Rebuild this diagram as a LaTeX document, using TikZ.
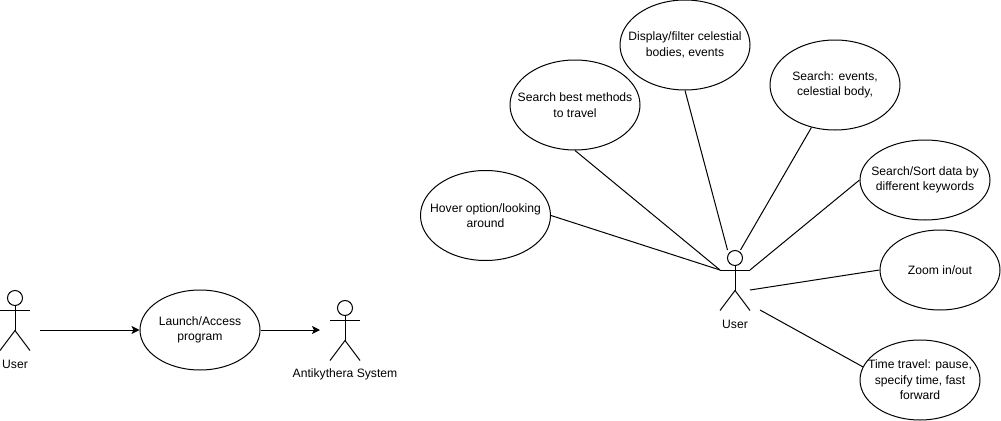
\documentclass[tikz,border=0pt]{standalone}
\usepackage{fontspec}
\setmainfont{Liberation Sans}
\usetikzlibrary{shapes.geometric,arrows.meta}
\tikzset{
    usecase/.style={draw, ellipse, line width=0.75pt, inner xsep=-30pt, inner ysep=-15pt, align=center, font=\fontsize{9.1}{11.6}\selectfont},
    smallcase/.style={usecase, minimum width=90pt, minimum height=60pt},
    widecase/.style={usecase, minimum width=97.5pt, minimum height=60pt},
    bigcase/.style={usecase, minimum width=97.5pt, minimum height=67.5pt},
    actorlabel/.style={font=\fontsize{9.1}{11.6}\selectfont},
    link/.style={line width=0.75pt},
    flow/.style={line width=0.75pt, -{Stealth[length=6pt,width=6pt,inset=1.5pt]}},
    pics/actor/.style={code={
        \draw[line width=0.75pt] (0,0) circle (7.5);
        \draw[line width=0.75pt] (0,7.5) -- (0,32.5);
        \draw[line width=0.75pt] (-15,12) -- (15,12);
        \draw[line width=0.75pt] (-15,52.5) -- (0,32.5) -- (15,52.5);
        \coordinate (-larm) at (-15,12);
        \coordinate (-rarm) at (15,12);
    }}
}
\begin{document}
\begin{tikzpicture}[x=0.75pt,y=-0.75pt]
    \useasboundingbox (0,0) rectangle (1001,421);
    % Left part
    \pic (userleft) at (15,298) {actor};
    \node[actorlabel] (userlefttext) at (15,364) {User};
    \node[smallcase] (launch) at (200,330) {Launch/Access\\program};
    \pic (system) at (345,308) {actor};
    \node[actorlabel] (systemtext) at (345,374) {Antikythera System};
    % Free ends of the arrows
    \coordinate (userout) at (40,330);
    \coordinate (systemin) at (320,330);
    \draw[flow] (userout) -- (launch.west);
    \draw[flow] (launch.east) -- (systemin);
    % Right part
    \pic (usermain) at (735,258) {actor};
    \node[actorlabel] (usermaintext) at (735,324) {User};
    \node[bigcase] (hover) at (485.5,215.5) {Hover option/looking\\around};
    \node[bigcase] (travel) at (575,105) {Search best methods\\to travel};
    \node[bigcase] (display) at (685,45) {Display/filter celestial\\bodies, events};
    \node[bigcase] (events) at (835,85) {Search: events,\\celestial body,};
    \node[widecase] (sortdata) at (925,180) {Search/Sort data by\\different keywords};
    \node[smallcase] (zoominout) at (940,270) {Zoom in/out};
    \node[smallcase] (timetravel) at (920,380) {Time travel: pause,\\specify time, fast\\forward};
    % Free ends of the lines
    \coordinate (headleft) at (727.5,250);
    \coordinate (headright) at (740.5,250);
    \coordinate (hipright) at (750,290);
    \coordinate (footright) at (760,310);
    \draw[link] (hover.east) -- (usermain-larm);
    \draw[link] (travel.south) -- (usermain-larm);
    \draw[link] (display.south) -- (headleft);
    \draw[link] (events.241) -- (headright);
    \draw[link] (sortdata.west) -- (usermain-rarm);
    \draw[link] (zoominout.west) -- (hipright);
    \draw[link] (timetravel.167) -- (footright);
\end{tikzpicture}
\end{document}
